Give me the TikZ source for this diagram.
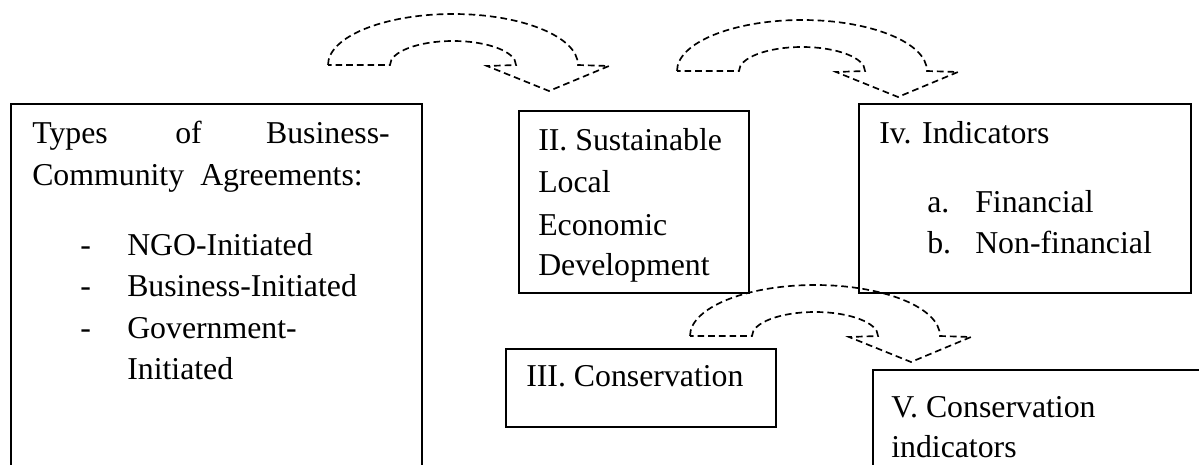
\documentclass[tikz,border=0pt]{standalone}
\usepackage{fontspec}
\setmainfont{Liberation Serif}
\newcommand\diagfont{\fontsize{23.85pt}{31.2pt}\selectfont}
\begin{document}
\begin{tikzpicture}[x=0.75pt,y=0.75pt,
  box/.style={draw, line width=1.3pt, inner sep=0pt, anchor=north west},
  txt/.style={anchor=base west, inner sep=0pt, font=\diagfont},
  flow/.style={draw, dash pattern=on 5pt off 3pt, line width=1.25pt, line join=miter},
  curvedarrow/.pic={
    % outer arc, arrow head, inner arc of a curved "down" block arrow
    \path[flow] (-125,0) arc[start angle=180, end angle=0, x radius=125, y radius=51]
      -- (156,-1) -- (96,-26) -- (34,-1) -- (63,0)
      arc[start angle=0, end angle=180, x radius=63, y radius=24] -- cycle;
  }]
\useasboundingbox (0,0) rectangle (1199,-464);
\clip (0,0) rectangle (1199,-464);

% boxes
\node[box, minimum width=308.25pt, minimum height=282.75pt] (types) at (10,-103) {};
\node[box, minimum width=172.5pt, minimum height=136.5pt] (sled) at (518,-110) {};
\node[box, minimum width=249pt, minimum height=141.75pt] (ind) at (858,-103) {};
\node[box, minimum width=202.5pt, minimum height=58.5pt] (cons) at (505,-348) {};
\node[box, minimum width=257.25pt, minimum height=83.25pt] (consind) at (872,-369) {};

% agreement types
\node[txt] (t1) at (32,-143) {Types};
\node[txt] (t2) at (175,-143) {of};
\node[txt, anchor=base east] (t3) at (390,-143) {Business-};
\node[txt] (t4) at (32,-185) {Community};
\node[txt] (t5) at (200,-185) {Agreements:};
\node[txt] (d1) at (80,-255) {-};
\node[txt] (i1) at (127,-255) {NGO-Initiated};
\node[txt] (d2) at (80,-296) {-};
\node[txt] (i2) at (127,-296) {Business-Initiated};
\node[txt] (d3) at (80,-338) {-};
\node[txt] (i3) at (127,-338) {Government-};
\node[txt] (i4) at (127,-379) {Initiated};

% sustainable local economic development
\node[txt] (s1) at (538,-150) {II. Sustainable};
\node[txt] (s2) at (538,-192) {Local};
\node[txt] (s3) at (538,-235) {Economic};
\node[txt] (s4) at (538,-275) {Development};

% indicators
\node[txt] (n1) at (879,-143) {Iv. Indicators};
\node[txt] (n2) at (927,-212) {a.};
\node[txt] (n3) at (975,-212) {Financial};
\node[txt] (n4) at (927,-253) {b.};
\node[txt] (n5) at (975,-253) {Non-financial};

% conservation
\node[txt] (c1) at (526,-386) {III. Conservation};
\node[txt] (v1) at (891,-417) {V. Conservation};
\node[txt] (v2) at (891,-457) {indicators};

% curved block arrows
\pic (arrA) at (453,-65) {curvedarrow};
\pic (arrB) at (802,-71) {curvedarrow};
\pic (arrC) at (815,-336) {curvedarrow};
\end{tikzpicture}
\end{document}
